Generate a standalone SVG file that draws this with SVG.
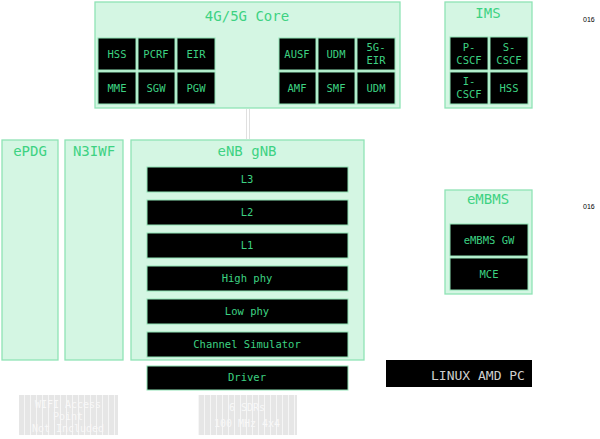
<svg xmlns="http://www.w3.org/2000/svg" width="600" height="439" viewBox="0 0 600 439">
<defs>
<style>
.grp{fill:#d4f6e3;stroke:#8fe3b5;stroke-width:1.3}
.blk{fill:#000;stroke:#8fe3b5;stroke-width:1}
.t{font-family:"DejaVu Sans Mono",monospace;fill:#3dd282;text-anchor:middle}
.tl{font-size:14px}
.ts{font-size:10.5px}
.hwt{font-family:"DejaVu Sans Mono",monospace;fill:#f8f8f8;text-anchor:middle;font-size:10px}
</style>
<pattern id="st" width="6" height="10" patternUnits="userSpaceOnUse"><rect width="6" height="10" fill="#e6e6e6"/><rect width="1" height="10" fill="#f6f6f6"/></pattern>
</defs>
<g id="connectors" stroke="#e0e0e0" stroke-width="1"><line x1="246.5" y1="109" x2="246.5" y2="139"/><line x1="249.5" y1="109" x2="249.5" y2="139"/></g>
<g id="core"><rect class="grp" x="95" y="2" width="305" height="106"/><text class="t tl" x="247" y="21">4G/5G Core</text>
<rect class="blk" x="98" y="38" width="38" height="32"/><text class="t ts" x="117" y="58">HSS</text>
<rect class="blk" x="138" y="38" width="37" height="32"/><text class="t ts" x="156" y="58">PCRF</text>
<rect class="blk" x="177" y="38" width="38" height="32"/><text class="t ts" x="196" y="58">EIR</text>
<rect class="blk" x="98" y="72" width="38" height="32"/><text class="t ts" x="117" y="92">MME</text>
<rect class="blk" x="138" y="72" width="37" height="32"/><text class="t ts" x="156" y="92">SGW</text>
<rect class="blk" x="177" y="72" width="38" height="32"/><text class="t ts" x="196" y="92">PGW</text>
<rect class="blk" x="279" y="38" width="37" height="32"/><text class="t ts" x="297" y="58">AUSF</text>
<rect class="blk" x="318" y="38" width="37" height="32"/><text class="t ts" x="336" y="58">UDM</text>
<rect class="blk" x="357" y="38" width="38" height="32"/><text class="t ts" x="376" y="51">5G-</text><text class="t ts" x="376" y="64">EIR</text>
<rect class="blk" x="279" y="72" width="37" height="32"/><text class="t ts" x="297" y="92">AMF</text>
<rect class="blk" x="318" y="72" width="37" height="32"/><text class="t ts" x="336" y="92">SMF</text>
<rect class="blk" x="357" y="72" width="38" height="32"/><text class="t ts" x="376" y="92">UDM</text></g>
<g id="ims"><rect class="grp" x="445" y="2" width="87" height="106"/><text class="t tl" x="488" y="18">IMS</text>
<rect class="blk" x="450" y="37" width="38" height="33"/><text class="t ts" x="469" y="51">P-</text><text class="t ts" x="469" y="64">CSCF</text>
<rect class="blk" x="490" y="37" width="38" height="33"/><text class="t ts" x="509" y="51">S-</text><text class="t ts" x="509" y="64">CSCF</text>
<rect class="blk" x="450" y="72" width="38" height="32"/><text class="t ts" x="469" y="85">I-</text><text class="t ts" x="469" y="98">CSCF</text>
<rect class="blk" x="490" y="72" width="38" height="32"/><text class="t ts" x="509" y="92">HSS</text></g>
<text x="583" y="22" font-family="Liberation Sans,sans-serif" font-size="7" fill="#000">016</text>
<text x="583" y="209" font-family="Liberation Sans,sans-serif" font-size="7" fill="#000">016</text>
<g id="epdg"><rect class="grp" x="2" y="140" width="56" height="220"/><text class="t tl" x="30" y="156">ePDG</text></g>
<g id="n3iwf"><rect class="grp" x="65" y="140" width="58" height="220"/><text class="t tl" x="94" y="156">N3IWF</text></g>
<g id="enb"><rect class="grp" x="131" y="140" width="233" height="220"/><text class="t tl" x="247" y="156">eNB gNB</text>
<rect class="blk" x="147" y="167" width="201" height="25"/><text class="t ts" x="247" y="183">L3</text>
<rect class="blk" x="147" y="200" width="201" height="25"/><text class="t ts" x="247" y="216">L2</text>
<rect class="blk" x="147" y="233" width="201" height="25"/><text class="t ts" x="247" y="249">L1</text>
<rect class="blk" x="147" y="266" width="201" height="25"/><text class="t ts" x="247" y="282">High phy</text>
<rect class="blk" x="147" y="299" width="201" height="25"/><text class="t ts" x="247" y="315">Low phy</text>
<rect class="blk" x="147" y="332" width="201" height="25"/><text class="t ts" x="247" y="348">Channel Simulator</text></g>
<g id="driver"><rect class="blk" x="147" y="366" width="201" height="24"/><text class="t ts" x="247" y="381">Driver</text></g>
<g id="embms"><rect class="grp" x="445" y="190" width="87" height="104"/><text class="t tl" x="488" y="204">eMBMS</text>
<rect class="blk" x="450" y="224" width="78" height="32"/><text class="t ts" x="489" y="244">eMBMS GW</text>
<rect class="blk" x="450" y="258" width="78" height="32"/><text class="t ts" x="489" y="278">MCE</text></g>
<g id="pc"><rect x="386" y="360" width="146" height="27" fill="#000"/><text x="478" y="380" font-family="DejaVu Sans Mono,monospace" font-size="13" fill="#cfcfcf" text-anchor="middle">LINUX AMD PC</text></g>
<g id="wifi"><rect x="19" y="395" width="99" height="40" fill="url(#st)"/><text class="hwt" x="68" y="408">WIFI Access</text><text class="hwt" x="68" y="420">Point</text><text class="hwt" x="68" y="432" font-size="7">Not Included</text></g>
<g id="sdr"><rect x="198" y="395" width="99" height="40" fill="url(#st)"/><text class="hwt" x="247" y="411">6 SDRs</text><text class="hwt" x="247" y="427">100 MHz 4x4</text></g>
</svg>
